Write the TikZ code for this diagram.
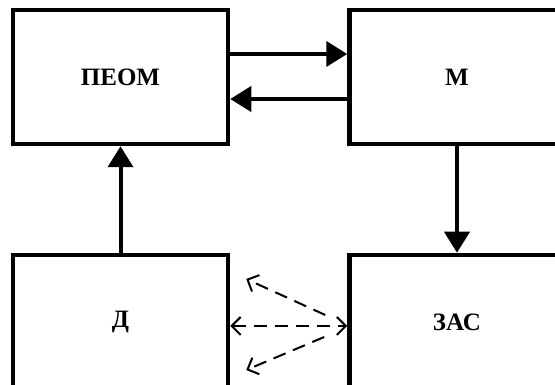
\documentclass[tikz,border=0pt]{standalone}
\usepackage{fontspec}
\setmainfont{Liberation Serif}
\usetikzlibrary{arrows.meta}
\begin{document}
\begin{tikzpicture}[x=1pt, y=1pt,
  block/.style={draw, line width=4.5pt, minimum width=215pt, minimum height=134pt,
    inner sep=0pt, font=\fontsize{25}{28}\selectfont\bfseries},
  link/.style={line width=4pt, -{Triangle[length=21pt,width=25pt]}},
  barb/.tip={Straight Barb[length=9pt,width=18pt,line width=2pt]},
  dlink/.style={line width=2pt, dash pattern=on 13pt off 8pt}]
  \useasboundingbox (0,0) rectangle (555,385);
  \clip (0,0) rectangle (555,385);
  % blocks
  \node[block] (peom) at (120.5, 308) {ПЕОМ};
  \node[block] (m) at (457, 308) {М};
  \node[block] (d) at (120.5, 63) {Д};
  \node[block] (zas) at (457, 63) {ЗАС};
  % solid links
  \draw[link] ([yshift=23pt]peom.east) -- ([yshift=23pt]m.west);
  \draw[link] ([yshift=-22pt]m.west) -- ([yshift=-22pt]peom.east);
  \draw[link] (d.north) -- (peom.south);
  \draw[link] (m.south) -- (zas.north);
  % dashed links
  \draw[dlink, barb-barb] ([yshift=-4pt]d.east) -- ([yshift=-4pt]zas.west);
  \draw[dlink, -barb] ([xshift=-22pt,yshift=7pt]zas.west) -- ([xshift=16pt,yshift=43pt]d.east);
  \draw[dlink, -barb] ([xshift=-23pt,yshift=-15pt]zas.west) -- ([xshift=16pt,yshift=-48pt]d.east);
\end{tikzpicture}
\end{document}
